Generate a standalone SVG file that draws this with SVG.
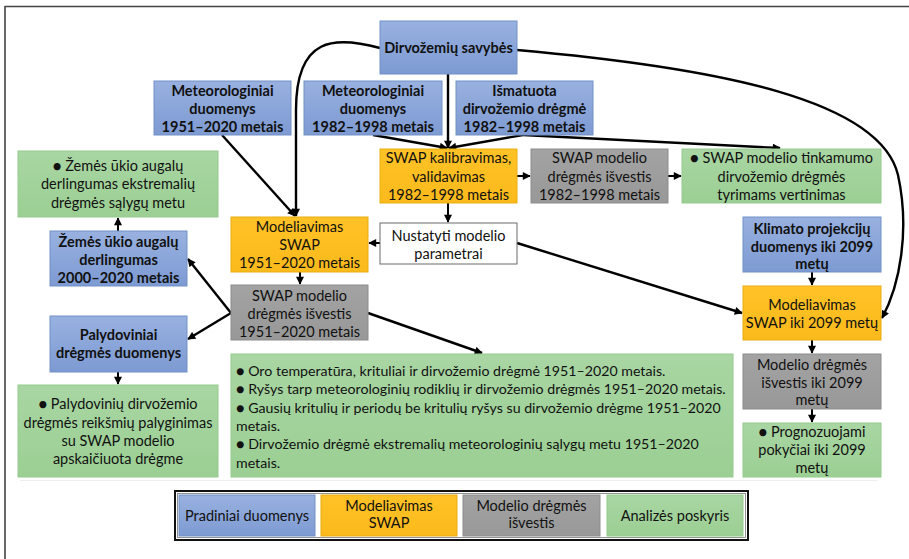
<svg xmlns="http://www.w3.org/2000/svg" width="909" height="559" viewBox="0 0 909 559">
<defs>
<linearGradient id="gBlue" x1="0" y1="0" x2="0" y2="1"><stop offset="0" stop-color="#98B1E0"/><stop offset="1" stop-color="#7D9AD2"/></linearGradient>
<linearGradient id="gGreen" x1="0" y1="0" x2="0" y2="1"><stop offset="0" stop-color="#A9D6A3"/><stop offset="1" stop-color="#9BCF93"/></linearGradient>
<linearGradient id="gOrange" x1="0" y1="0" x2="0" y2="1"><stop offset="0" stop-color="#FFC226"/><stop offset="1" stop-color="#FBBA1C"/></linearGradient>
<linearGradient id="gGray" x1="0" y1="0" x2="0" y2="1"><stop offset="0" stop-color="#A3A3A3"/><stop offset="1" stop-color="#989898"/></linearGradient>
<marker id="ah" viewBox="0 0 10 10" refX="9" refY="5" markerWidth="9" markerHeight="8" orient="auto" markerUnits="userSpaceOnUse"><path d="M0,0 L10,5 L0,10 z" fill="#000"/></marker>
</defs>
<style>
.blue{fill:url(#gBlue);stroke:#7390C6;stroke-width:1}
.orange{fill:url(#gOrange);stroke:#E8AD10;stroke-width:1}
.gray{fill:url(#gGray);stroke:#8C8C8C;stroke-width:1}
.green{fill:url(#gGreen);stroke:#95C98E;stroke-width:1}
.white{fill:#fff;stroke:#6b6b6b;stroke-width:1}
text{font-family:Lato,"Liberation Sans",sans-serif;font-size:14.5px;fill:#111;text-anchor:middle}
.b{font-weight:bold}
.l{text-anchor:start;font-size:14.2px}
.c{fill:none;stroke:#000;stroke-width:2.4;marker-end:url(#ah)}
.cs{fill:none;stroke:#000;stroke-width:2;marker-end:url(#ah)}
</style>
<rect width="909" height="559" fill="#fff"/>
<path d="M5,6.5 H909 M5,6 V559" fill="none" stroke="#444" stroke-width="1.6"/>
<line x1="20" y1="480.5" x2="877" y2="480.5" stroke="#eeeeee" stroke-width="1"/>

<g id="connectors">
<path class="c" d="M380,48 C335,36 296,36 296,110 L296,216"/>
<path class="c" d="M222,135 L295,216"/>
<path class="c" d="M448,74 L448,148"/>
<path class="c" d="M373,135 L447,148"/>
<path class="c" d="M523,135 L449,148"/>
<path class="c" d="M523,135 L780,148"/>
<path class="c" d="M517,50 C720,68 880,100 898,175 C910,230 900,285 882,318"/>
<path class="cs" d="M517,176 L530,176"/>
<path class="cs" d="M668,176 L681,176"/>
<path class="cs" d="M448,203 L448,222"/>
<path class="cs" d="M380,243 L369,243"/>
<path class="c" d="M517,243 L742,313"/>
<path class="cs" d="M300,272 L300,284"/>
<path class="c" d="M231,313 L188,259"/>
<path class="c" d="M231,313 L188,339"/>
<path class="c" d="M368,313 L482,353"/>
<path class="cs" d="M118,231 L118,218"/>
<path class="cs" d="M118,372 L118,384"/>
<path class="cs" d="M812,272 L812,285"/>
<path class="cs" d="M812,340 L812,353"/>
<path class="cs" d="M812,409 L812,422"/>
</g>

<g id="dirvozemiu-savybes"><rect class="blue" x="380" y="21" width="137" height="53"/><text class="b" x="448.5" y="53">Dirvožemių savybės</text></g>
<g id="meteo-1951"><rect class="blue" x="154" y="81" width="137" height="54"/><text class="b" x="222.5" y="96">Meteorologiniai</text><text class="b" x="222.5" y="114">duomenys</text><text class="b" x="222.5" y="132">1951–2020 metais</text></g>
<g id="meteo-1982"><rect class="blue" x="304" y="81" width="138" height="54"/><text class="b" x="373" y="96">Meteorologiniai</text><text class="b" x="373" y="114">duomenys</text><text class="b" x="373" y="132">1982–1998 metais</text></g>
<g id="ismatuota"><rect class="blue" x="456" y="81" width="137" height="54"/><text class="b" x="524.5" y="96">Išmatuota</text><text class="b" x="524.5" y="114">dirvožemio drėgmė</text><text class="b" x="524.5" y="132">1982–1998 metais</text></g>
<g id="swap-kalibravimas"><rect class="orange" x="380" y="149" width="137" height="54"/><text x="448.5" y="163">SWAP kalibravimas,</text><text x="448.5" y="182">validavimas</text><text x="448.5" y="200">1982–1998 metais</text></g>
<g id="isvestis-1982"><rect class="gray" x="531" y="149" width="137" height="54"/><text x="599.5" y="163">SWAP modelio</text><text x="599.5" y="182">drėgmės išvestis</text><text x="599.5" y="200">1982–1998 metais</text></g>
<g id="tinkamumo"><rect class="green" x="682" y="149" width="199" height="54"/><text x="781.5" y="163">● SWAP modelio tinkamumo</text><text x="781.5" y="182">dirvožemio drėgmės</text><text x="781.5" y="200">tyrimams vertinimas</text></g>
<g id="derlingumas-ekstremaliu"><rect class="green" x="18" y="151" width="200" height="66"/><text x="118" y="171">● Žemės ūkio augalų</text><text x="118" y="189">derlingumas ekstremalių</text><text x="118" y="208">drėgmės sąlygų metu</text></g>
<g id="derlingumas-2000"><rect class="blue" x="50" y="231" width="137" height="55"/><text class="b" x="118.5" y="247">Žemės ūkio augalų</text><text class="b" x="118.5" y="265">derlingumas</text><text class="b" x="118.5" y="283">2000–2020 metais</text></g>
<g id="modeliavimas-1951"><rect class="orange" x="231" y="217" width="137" height="55"/><text x="299.5" y="232">Modeliavimas</text><text x="299.5" y="250">SWAP</text><text x="299.5" y="268">1951–2020 metais</text></g>
<g id="parametrai"><rect class="white" x="380" y="223" width="137" height="41"/><text x="448.5" y="241">Nustatyti modelio</text><text x="448.5" y="259">parametrai</text></g>
<g id="isvestis-1951"><rect class="gray" x="231" y="285" width="137" height="55"/><text x="299.5" y="301">SWAP modelio</text><text x="299.5" y="319">drėgmės išvestis</text><text x="299.5" y="337">1951–2020 metais</text></g>
<g id="palydoviniai"><rect class="blue" x="50" y="316" width="137" height="56"/><text class="b" x="118.5" y="340">Palydoviniai</text><text class="b" x="118.5" y="358">drėgmės duomenys</text></g>
<g id="palydoviniu-palyginimas"><rect class="green" x="18" y="385" width="200" height="92"/><text x="118" y="409">● Palydovinių dirvožemio</text><text x="118" y="428">drėgmės reikšmių palyginimas</text><text x="118" y="446">su SWAP modelio</text><text x="118" y="464">apskaičiuota drėgme</text></g>
<g id="analize-1951"><rect class="green" x="231" y="354" width="502" height="123"/>
<text class="l" x="236" y="376">● Oro temperatūra, krituliai ir dirvožemio drėgmė 1951–2020 metais.</text>
<text class="l" x="236" y="394">● Ryšys tarp meteorologinių rodiklių ir dirvožemio drėgmės 1951–2020 metais.</text>
<text class="l" x="236" y="413">● Gausių kritulių ir periodų be kritulių ryšys su dirvožemio drėgme 1951–2020</text>
<text class="l" x="236" y="431">metais.</text>
<text class="l" x="236" y="449">● Dirvožemio drėgmė ekstremalių meteorologinių sąlygų metu 1951–2020</text>
<text class="l" x="236" y="468">metais.</text></g>
<g id="klimato"><rect class="blue" x="743" y="217" width="138" height="55"/><text class="b" x="812" y="234">Klimato projekcijų</text><text class="b" x="812" y="252">duomenys iki 2099</text><text class="b" x="812" y="269">metų</text></g>
<g id="modeliavimas-2099"><rect class="orange" x="743" y="286" width="138" height="54"/><text x="812" y="310">Modeliavimas</text><text x="812" y="328">SWAP iki 2099 metų</text></g>
<g id="isvestis-2099"><rect class="gray" x="743" y="354" width="138" height="55"/><text x="812" y="370">Modelio drėgmės</text><text x="812" y="388">išvestis iki 2099</text><text x="812" y="405">metų</text></g>
<g id="prognozuojami"><rect class="green" x="743" y="423" width="138" height="54"/><text x="812" y="437">● Prognozuojami</text><text x="812" y="455">pokyčiai iki 2099</text><text x="812" y="473">metų</text></g>

<g id="legend">
<rect x="175" y="491" width="573" height="49" fill="#fff" stroke="#111" stroke-width="2"/>
<rect x="177.5" y="493.5" width="568" height="44" fill="none" stroke="#777" stroke-width="0.8"/>
<rect class="blue" x="179" y="495" width="136" height="41"/><text x="247" y="521">Pradiniai duomenys</text>
<rect class="orange" x="321" y="495" width="136" height="41"/><text x="389" y="511">Modeliavimas</text><text x="389" y="528">SWAP</text>
<rect class="gray" x="463" y="495" width="137" height="41"/><text x="531.5" y="511">Modelio drėgmės</text><text x="531.5" y="528">išvestis</text>
<rect class="green" x="607" y="495" width="136" height="41"/><text x="675" y="521">Analizės poskyris</text>
</g>
</svg>
